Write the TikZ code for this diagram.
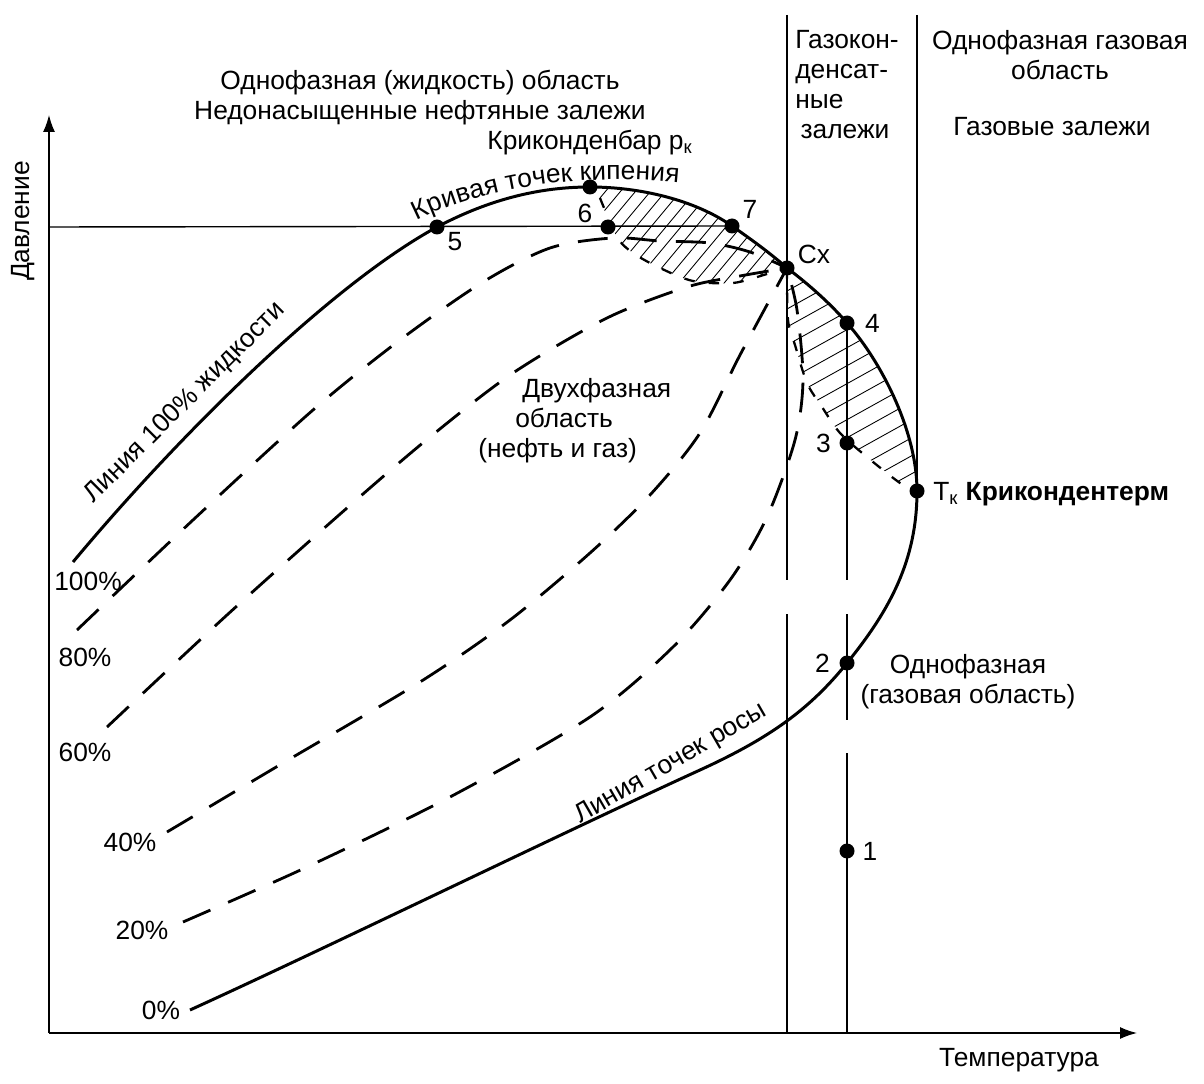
\documentclass[tikz,border=0pt]{standalone}
\usepackage{fontspec}
\setmainfont{Liberation Sans}
\usetikzlibrary{arrows.meta, positioning, decorations.text}

\tikzset{
    envelope/.style={line width=1.7pt, line join=round},
    liqline/.style={line width=1.6pt, dash pattern=on 17pt off 11pt},
    rimdash/.style={line width=1.3pt, dash pattern=on 6pt off 8pt},
    guide/.style={line width=0.8pt},
    hatch/.style={line width=0.5pt},
    dot/.style={circle, fill=black, inner sep=0pt, minimum size=0.3cm},
    lbl/.style={font=\fontsize{15}{17}\selectfont, inner sep=0pt}
}

\begin{document}
\begin{tikzpicture}[x=0.02cm, y=-0.02cm, >={Latex[length=0.34cm, width=0.24cm]}]
\useasboundingbox (0,0) rectangle (1204,1084);

\coordinate (O) at (49,1033);
\coordinate (ytip) at (49,115);
\coordinate (xtip) at (1137,1033);
\coordinate (c1) at (847,851);
\coordinate (c2) at (847,663);
\coordinate (c3) at (847,443);
\coordinate (c4) at (847,323);
\coordinate (c5) at (437,227);
\coordinate (c6) at (608,227);
\coordinate (c7) at (732,226);
\coordinate (ckb) at (590,187);
\coordinate (ccx) at (787,268);
\coordinate (ctk) at (917,491);
\coordinate (bub0) at (73,562);
\coordinate (dewm) at (700,770);
\coordinate (dew0) at (190,1010);

\begin{scope}
    \clip plot[smooth] coordinates {(598,188) (633,191) (683,203) (c7) (ccx)}
        -- plot[smooth] coordinates {(767,274) (733,283) (693,281) (660,268) (633,253) (617,237) (600,200)} -- cycle;
    \foreach \i in {0,...,20}
        \draw[hatch] (500+15*\i,300) -- ++(100,-120);
\end{scope}
\begin{scope}
    \clip (ccx) .. controls (807,283) and (830,303) .. (c4) .. controls (880,360) and (917,430) .. (ctk)
        -- plot[smooth] coordinates {(900,483) (867,457) (840,433) (822,407) (807,383) (795,345) (788,320)} -- cycle;
    \foreach \i in {0,...,18}
        \draw[hatch] (760,270+18*\i) -- ++(180,-100);
\end{scope}

\draw[guide, ->] (O) -- (ytip);
\draw[guide, ->] (O) -- (xtip);
\draw[guide] (787,15) -- (787,580) (787,614) -- (787,1033);
\draw[guide] (917,15) -- (ctk);
\draw[guide] (c4) -- (847,580) (847,614) -- (847,720) (847,753) -- (847,1033);
\draw[guide] (49,227) -- (c7);

\draw[envelope] (bub0) .. controls (173,442) and (327,287) .. (c5)
    .. controls (490,199) and (540,187) .. (ckb)
    .. controls (640,187) and (695,200) .. (c7)
    .. controls (752,240) and (770,253) .. (ccx)
    .. controls (807,283) and (830,303) .. (c4)
    .. controls (880,360) and (917,430) .. (ctk)
    .. controls (917,560) and (890,610) .. (c2)
    .. controls (810,709) and (770,738) .. (dewm)
    .. controls (560,834) and (322,950) .. (dew0);

\draw[liqline] plot[smooth] coordinates {(77,630) (193,520) (313,410) (400,340) (483,282)
    (550,248) (613,238) (660,241) (710,243) (750,252) (ccx)};
\draw[liqline] plot[smooth] coordinates {(107,727) (227,615) (347,508) (430,437) (513,373)
    (607,318) (687,287) (740,276) (ccx)};
\draw[liqline] plot[smooth] coordinates {(167,832) (283,763) (420,682) (510,620) (590,553)
    (650,495) (700,433) (740,355) (ccx)};
\draw[liqline] plot[smooth] coordinates {(183,922) (307,867) (450,797) (590,717) (673,647)
    (730,580) (767,517) (795,440) (803,380) (797,310) (ccx)};
\draw[rimdash] plot[smooth] coordinates {(600,198) (617,237) (633,253) (660,268) (693,281)
    (733,283) (767,274) (ccx)};
\draw[rimdash] plot[smooth] coordinates {(ccx) (788,320) (795,345) (807,383) (822,407)
    (840,433) (867,457) (900,483) (ctk)};

\node[dot] (p1) at (c1) {};
\node[dot] (p2) at (c2) {};
\node[dot] (p3) at (c3) {};
\node[dot] (p4) at (c4) {};
\node[dot] (p5) at (c5) {};
\node[dot] (p6) at (c6) {};
\node[dot] (p7) at (c7) {};
\node[dot] (pkb) at (ckb) {};
\node[dot] (pcx) at (ccx) {};
\node[dot] (ptk) at (ctk) {};

\node[lbl, right=0.2cm of p4] (l4) {4};
\node[lbl, left=0.16cm of p3] (l3) {3};
\node[lbl, left=0.18cm of p2] (l2) {2};
\node[lbl, right=0.15cm of p1] (l1) {1};
\node[lbl] (l5) at (455,242) {5};
\node[lbl] (l6) at (585,213) {6};
\node[lbl] (l7) at (750,209) {7};
\node[lbl] (lcx) at (814,254) {Сх};
\node[lbl, anchor=west] (ltk) at (933,494) {T\textsubscript{к} \textbf{Крикондентерм}};

\node[lbl] (l100) at (88,581) {100\%};
\node[lbl] (l80) at (85,657) {80\%};
\node[lbl] (l60) at (85,752) {60\%};
\node[lbl] (l40) at (130,842) {40\%};
\node[lbl] (l20) at (142,930) {20\%};
\node[lbl] (l0) at (161,1010) {0\%};

\node[lbl, align=center] (liqreg) at (420,98) {Однофазная (жидкость) область\\Недонасыщенные нефтяные залежи};
\node[lbl] (kbar) at (590,143) {Криконденбар p\textsubscript{к}};
\node[lbl, align=left, anchor=north west] (gcond) at (795,30) {Газокон-\\денсат-\\ные\\\hspace{3pt}залежи};
\node[lbl, align=center, anchor=north] (gasreg) at (1060,30) {Однофазная газовая\\область};
\node[lbl] (gasdep) at (1052,127) {Газовые залежи};
\node[lbl, align=left, anchor=north west] (twoph) at (478,378) {\hspace{25pt}Двухфазная\\\hspace{21pt}область\\(нефть и газ)};
\node[lbl, align=center] (gasone) at (968,682) {Однофазная\\(газовая область)};
\node[lbl, rotate=45] (liq100) at (185,403) {Линия 100\% жидкости};
\node[lbl, rotate=30] (dewl) at (671,764) {Линия точек росы};
\node[lbl, rotate=90] (pres) at (23,221) {Давление};
\node[lbl] (temp) at (1019,1060) {Температура};

\path[decorate, decoration={text along path, text align=center,
    text={|\fontsize{15}{17}\selectfont|Кривая точек кипения}}]
    (414,222) .. controls (480,188) and (580,172) .. (682,183);

\end{tikzpicture}
\end{document}
